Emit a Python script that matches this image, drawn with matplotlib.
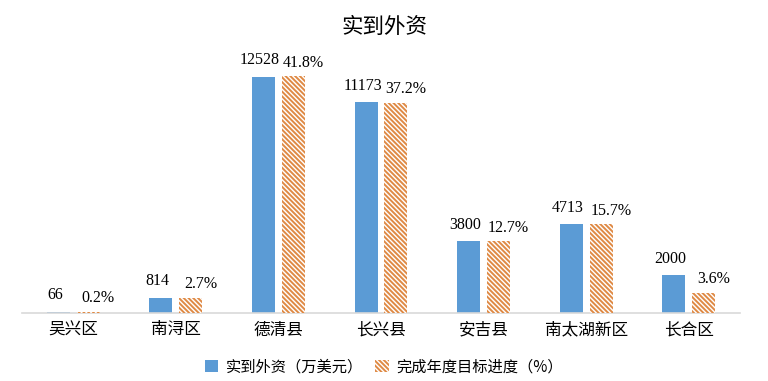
import matplotlib
matplotlib.use("Agg")
import matplotlib.pyplot as plt
import numpy as np
from matplotlib.patches import Patch

plt.rcParams['font.family'] = ['Noto Sans CJK SC', 'DejaVu Sans']
plt.rcParams['hatch.linewidth'] = 1.4

categories = ['吴兴区', '南浔区', '德清县', '长兴县', '安吉县', '南太湖新区', '长合区']
investment = [66, 814, 12528, 11173, 3800, 4713, 2000]
progress = [0.2, 2.7, 41.8, 37.2, 12.7, 15.7, 3.6]
inv_labels = ['66', '814', '12528', '11173', '3800', '4713', '2000']
prog_labels = ['0.2%', '2.7%', '41.8%', '37.2%', '12.7%', '15.7%', '3.6%']
series_names = ['实到外资（万美元）', '完成年度目标进度（%）']
title = '实到外资'

blue = '#5B9BD5'
orange = '#DF8A45'
hatch = '\\' * 7

fig = plt.figure(figsize=(7.68, 3.81), dpi=100)
ax = fig.add_axes([0.0286, 0.1785, 0.935, 0.693])
ax2 = ax.twinx()

x = np.arange(len(categories))
w = 0.224
off = 0.146

ax.bar(x - off, investment, width=w, color=blue, linewidth=0)
ax2.bar(x + off, progress, width=w, facecolor='white', edgecolor=orange,
        linewidth=0, hatch=hatch)

ax.set_xlim(-0.5, len(categories) - 0.5)
ax.set_ylim(0, 14000)
ax2.set_ylim(0, 14000 / 300)

for a in (ax, ax2):
    for s in ('top', 'right', 'left'):
        a.spines[s].set_visible(False)
    a.spines['bottom'].set_color('#D9D9D9')
    a.spines['bottom'].set_linewidth(1.2)
    a.set_yticks([])
    a.tick_params(axis='x', length=0)
ax2.spines['bottom'].set_visible(False)

ax.set_xticks(x)
ax.set_xticklabels(categories, fontsize=12)
ax.tick_params(axis='x', pad=6)

for xi, v, t in zip(x, investment, inv_labels):
    ax.annotate(t, (xi - off, v), xytext=(-2.5, 6), textcoords='offset points',
                ha='center', va='bottom', fontsize=11.5, family='Liberation Serif')
for xi, v, t in zip(x, progress, prog_labels):
    ax2.annotate(t, (xi + off, v), xytext=(7, 4), textcoords='offset points',
                 ha='center', va='bottom', fontsize=11.5, family='Liberation Serif')

fig.text(0.5, 0.93, title, ha='center', va='center', fontsize=15.5)

handles = [Patch(facecolor=blue, linewidth=0),
           Patch(facecolor='white', edgecolor=orange, linewidth=0, hatch=hatch)]
fig.legend(handles, series_names, loc='center', bbox_to_anchor=(0.5, 0.037),
           ncol=2, frameon=False, fontsize=11, handlelength=0.9, handleheight=0.9,
           columnspacing=0.8, handletextpad=0.5)

fig.savefig('out.png', dpi=100)
